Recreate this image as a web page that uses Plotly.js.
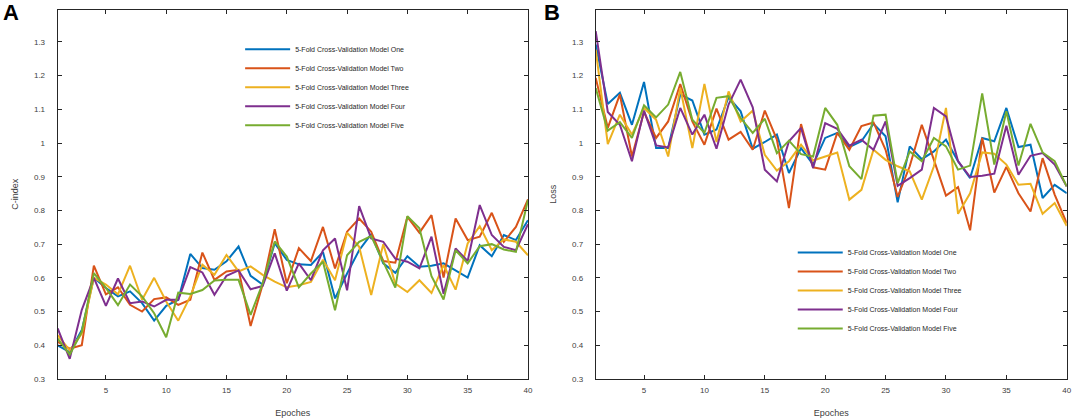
<!DOCTYPE html>
<html>
<head>
<meta charset="utf-8">
<script src="https://cdn.plot.ly/plotly-3.0.1.min.js"></script>
<style>
  html, body { margin: 0; padding: 0; background: #fff; }
  #chart { width: 1072px; height: 419px; }
</style>
</head>
<body>
<div id="chart"></div>
<script>
// epochs on the x axis
const epochs = [1,2,3,4,5,6,7,8,9,10,11,12,13,14,15,16,17,18,19,20,
                21,22,23,24,25,26,27,28,29,30,31,32,33,34,35,36,37,38,39,40];

const modelNames = ['5-Fold Cross-Validation Model One', '5-Fold Cross-Validation Model Two',
  '5-Fold Cross-Validation Model Three', '5-Fold Cross-Validation Model Four',
  '5-Fold Cross-Validation Model Five'];
const modelColors = ['#0072BD', '#D95319', '#EDB120', '#7E2F8E', '#77AC30'];

// panel A : C-index
const cindexOne   = [0.40,0.38,0.445,0.60,0.57,0.545,0.56,0.525,0.473,0.517,0.535,0.671,0.629,0.624,0.649,0.693,0.606,0.58,0.703,0.653,
                     0.64,0.638,0.677,0.539,0.613,0.682,0.73,0.643,0.615,0.664,0.633,0.636,0.643,0.623,0.601,0.697,0.664,0.727,0.712,0.771];
const cindexTwo   = [0.41,0.39,0.40,0.636,0.551,0.572,0.52,0.50,0.537,0.542,0.52,0.535,0.675,0.594,0.619,0.624,0.457,0.58,0.744,0.584,
                     0.688,0.65,0.751,0.628,0.737,0.776,0.737,0.65,0.645,0.781,0.734,0.786,0.601,0.776,0.712,0.722,0.793,0.707,0.751,0.833];
const cindexThree = [0.43,0.385,0.435,0.60,0.58,0.551,0.636,0.535,0.60,0.53,0.473,0.545,0.639,0.609,0.668,0.619,0.634,0.609,0.589,0.572,
                     0.578,0.588,0.654,0.593,0.734,0.692,0.549,0.70,0.583,0.558,0.593,0.555,0.638,0.565,0.702,0.753,0.682,0.714,0.707,0.667];
const cindexFour  = [0.45,0.36,0.505,0.60,0.517,0.598,0.525,0.53,0.515,0.535,0.535,0.632,0.616,0.55,0.606,0.622,0.566,0.576,0.673,0.562,
                     0.643,0.593,0.682,0.717,0.563,0.813,0.717,0.707,0.657,0.648,0.628,0.722,0.553,0.687,0.65,0.816,0.727,0.692,0.682,0.759];
const cindexFive  = [0.42,0.372,0.44,0.614,0.57,0.519,0.58,0.545,0.495,0.424,0.556,0.552,0.564,0.592,0.594,0.594,0.49,0.584,0.708,0.663,
                     0.572,0.613,0.648,0.504,0.667,0.707,0.724,0.65,0.571,0.783,0.747,0.605,0.536,0.682,0.643,0.694,0.70,0.684,0.677,0.831];

// panel B : Loss
const lossOne   = [1.292,1.116,1.149,1.054,1.181,0.985,0.985,1.144,1.126,1.025,1.04,1.136,1.094,0.983,1.003,1.025,0.911,0.985,0.936,1.015,
                   1.03,0.988,1.005,1.057,1.02,0.824,0.99,0.952,0.975,1.01,0.946,0.896,1.015,1.005,1.104,0.988,0.995,0.837,0.876,0.851];
const lossTwo   = [1.193,1.045,1.144,0.96,1.092,1.015,1.064,1.175,1.064,0.995,1.102,1.01,1.033,0.98,1.096,1.01,0.807,1.056,0.928,0.921,
                   1.03,0.98,1.05,1.061,0.98,0.84,0.931,1.054,0.95,0.844,0.869,0.741,1.015,0.853,0.929,0.851,0.797,0.955,0.847,0.762];
const lossThree = [1.277,0.997,1.084,1.025,1.104,1.069,0.96,1.163,0.985,1.175,1.003,1.153,1.064,1.096,0.965,0.918,0.946,0.995,0.948,0.96,
                   0.972,0.832,0.861,0.98,0.95,0.931,0.916,0.832,0.931,1.104,0.79,0.851,0.972,0.968,0.936,0.876,0.879,0.79,0.822,0.754];
const lossFour  = [1.332,1.092,1.054,0.946,1.096,0.993,0.987,1.104,1.025,1.084,0.983,1.114,1.188,1.106,0.921,0.886,1.005,1.045,0.926,1.059,
                   1.042,0.992,1.01,0.98,1.064,0.873,0.896,0.921,1.104,1.079,0.946,0.899,0.903,0.909,1.051,0.906,0.962,0.97,0.936,0.871];
const lossFive  = [1.163,1.037,1.062,1.015,1.112,1.076,1.114,1.211,1.069,1.03,1.134,1.139,1.074,1.03,1.072,0.97,1.007,0.967,0.96,1.104,
                   1.054,0.931,0.893,1.081,1.084,0.881,0.975,0.946,1.015,0.99,0.921,0.933,1.147,0.936,1.094,0.933,1.057,0.972,0.946,0.871];

const xTicks = [5,10,15,20,25,30,35,40];
const yTicks = [0.3,0.4,0.5,0.6,0.7,0.8,0.9,1,1.1,1.2,1.3];
const yTickText = ['0.3','0.4','0.5','0.6','0.7','0.8','0.9','1','1.1','1.2','1.3'];

const cindexSets = [cindexOne, cindexTwo, cindexThree, cindexFour, cindexFive];
const lossSets = [lossOne, lossTwo, lossThree, lossFour, lossFive];

let traces = [];
cindexSets.forEach((ys, i) => {
    traces.push({
        x: epochs, y: ys, name: modelNames[i], type: 'scatter', mode: 'lines',
        line: {color: modelColors[i], width: 2},
        xaxis: 'x', yaxis: 'y', legend: 'legend'
    });
});
lossSets.forEach((ys, i) => {
    traces.push({
        x: epochs, y: ys, name: modelNames[i], type: 'scatter', mode: 'lines',
        line: {color: modelColors[i], width: 2},
        xaxis: 'x2', yaxis: 'y2', legend: 'legend2'
    });
});

const tickFont = {family: 'Liberation Sans, Arial, sans-serif', size: 8, color: '#404040'};
const titleFont = {family: 'Liberation Sans, Arial, sans-serif', size: 9, color: '#404040'};

const xAxisBase = {
    range: [1, 40], tickvals: xTicks, ticks: 'inside', ticklen: 4, tickcolor: '#262626',
    mirror: 'ticks', showline: true, linecolor: '#262626', linewidth: 1,
    showgrid: false, zeroline: false, tickfont: tickFont, ticklabelstandoff: 3,
    title: {text: 'Epoches', font: titleFont, standoff: 16}
};
const yAxisBase = {
    range: [0.3, 1.396], tickvals: yTicks, ticktext: yTickText, ticks: 'inside', ticklen: 4,
    tickcolor: '#262626', mirror: 'ticks', showline: true, linecolor: '#262626', linewidth: 1,
    showgrid: false, zeroline: false, tickfont: tickFont, ticklabelstandoff: 10,
    domain: [0.0955, 0.9773]
};

const legendBase = {
    bgcolor: 'rgba(0,0,0,0)', borderwidth: 0, xanchor: 'left', yanchor: 'top',
    font: {family: 'Liberation Sans, Arial, sans-serif', size: 7, color: '#262626'},
    itemwidth: 45, tracegroupgap: 0
};

const layout = {
    width: 1072, height: 419,
    margin: {l: 0, r: 0, t: 0, b: 0},
    paper_bgcolor: '#fff', plot_bgcolor: '#fff',
    showlegend: true,
    xaxis: Object.assign({}, xAxisBase, {domain: [0.0538, 0.4925], anchor: 'y'}),
    yaxis: Object.assign({}, yAxisBase, {anchor: 'x', title: {text: 'C-index', font: titleFont, standoff: 13}}),
    xaxis2: Object.assign({}, xAxisBase, {domain: [0.5557, 0.9951], anchor: 'y2'}),
    yaxis2: Object.assign({}, yAxisBase, {anchor: 'x2', title: {text: 'Loss', font: titleFont, standoff: 13}}),
    legend: Object.assign({}, legendBase, {x: 0.224, y: 0.917}),
    legend2: Object.assign({}, legendBase, {x: 0.7395, y: 0.432}),
    annotations: [
        {text: '<b>A</b>', xref: 'paper', yref: 'paper', x: 0.001, y: 1.005, xanchor: 'left', yanchor: 'top',
         showarrow: false, font: {family: 'Liberation Sans, Arial, sans-serif', size: 22, color: '#000'}},
        {text: '<b>B</b>', xref: 'paper', yref: 'paper', x: 0.506, y: 1.005, xanchor: 'left', yanchor: 'top',
         showarrow: false, font: {family: 'Liberation Sans, Arial, sans-serif', size: 22, color: '#000'}}
    ]
};

Plotly.newPlot('chart', traces, layout, {displayModeBar: false, staticPlot: true});
</script>
</body>
</html>
